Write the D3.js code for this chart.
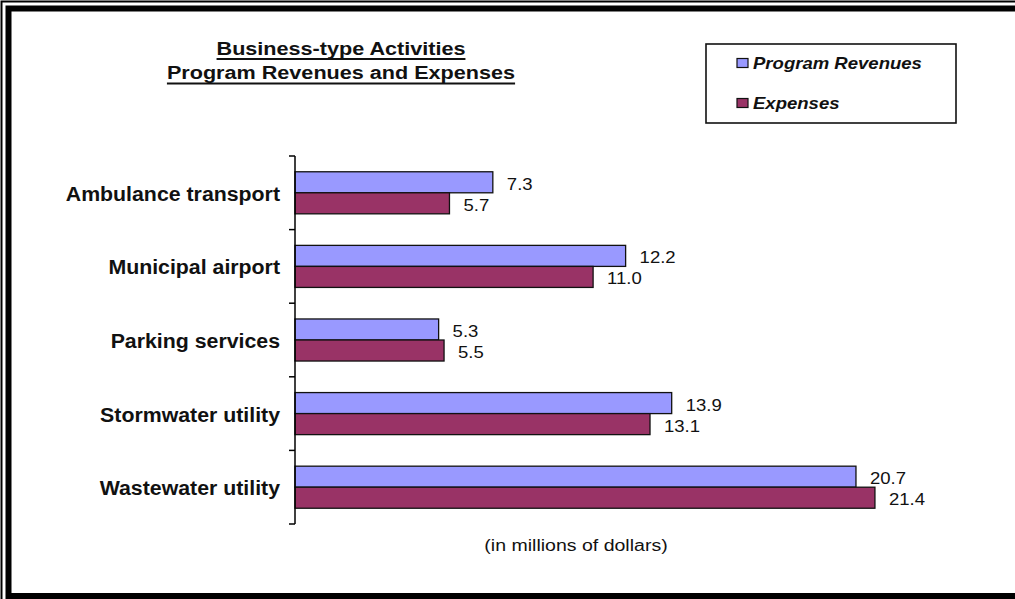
<!DOCTYPE html>
<html>
<head>
<meta charset="utf-8">
<script src="https://cdn.jsdelivr.net/npm/d3@7"></script>
<style>
  body { margin: 0; background: #fff; }
  svg { display: block; font-family: "Liberation Sans", Arial, sans-serif; }
</style>
</head>
<body>
<div id="chart"></div>
<script>
// chart data
const categories = ["Ambulance transport", "Municipal airport", "Parking services", "Stormwater utility", "Wastewater utility"];
const seriesNames = ["Program Revenues", "Expenses"];
const revenues = [7.3, 12.2, 5.3, 13.9, 20.7];
const expenses = [5.7, 11.0, 5.5, 13.1, 21.4];
const titleLines = ["Business-type Activities", "Program Revenues and Expenses"];
const axisTitle = "(in millions of dollars)";

const width = 1015, height = 599;
const colors = ["#9999ff", "#993366"];

const svg = d3.select("#chart").append("svg")
    .attr("width", width)
    .attr("height", height);

// the picture is a bit wider than Arial, so widen text to fit
function stretch(sel, k) {
    sel.each(function() {
        const w = this.getComputedTextLength();
        this.setAttribute("textLength", w * k);
        this.setAttribute("lengthAdjust", "spacingAndGlyphs");
    });
}

// double frame
svg.append("rect")
    .attr("x", 1.5).attr("y", 1.5)
    .attr("width", 1040).attr("height", 620)
    .attr("fill", "none").attr("stroke", "#000").attr("stroke-width", 2);
svg.append("rect")
    .attr("x", 8.5).attr("y", 8.5)
    .attr("width", 1040).attr("height", 587.5)
    .attr("fill", "none").attr("stroke", "#000").attr("stroke-width", 6);

// scales
const x = d3.scaleLinear().domain([0, 25]).range([295, 972.5]);
const y0 = d3.scaleBand().domain(categories).range([156, 524]).padding(0);
const y1 = d3.scaleBand().domain(seriesNames).range([0, y0.bandwidth()])
    .paddingInner(0).paddingOuter(0.75);

const rows = categories.map((c, i) => ({
    category: c,
    values: [
        {series: seriesNames[0], value: revenues[i]},
        {series: seriesNames[1], value: expenses[i]}
    ]
}));

// bars
const group = svg.append("g").selectAll("g")
    .data(rows)
    .join("g")
    .attr("transform", d => `translate(0,${y0(d.category)})`);

group.selectAll("rect")
    .data(d => d.values)
    .join("rect")
    .attr("x", x(0))
    .attr("y", d => y1(d.series))
    .attr("width", d => x(d.value) - x(0))
    .attr("height", y1.bandwidth())
    .attr("fill", (d, i) => colors[i])
    .attr("stroke", "#111")
    .attr("stroke-width", 1.3);

const valueLabels = group.selectAll("text")
    .data(d => d.values)
    .join("text")
    .attr("x", d => x(d.value) + 14)
    .attr("y", d => y1(d.series) + y1.bandwidth() - 3)
    .attr("font-size", 17)
    .attr("fill", "#111")
    .text(d => d.value.toFixed(1));
stretch(valueLabels, 1.09);

// category axis
const axis = svg.append("g");
axis.append("line")
    .attr("x1", x(0)).attr("x2", x(0))
    .attr("y1", y0.range()[0]).attr("y2", y0.range()[1])
    .attr("stroke", "#000").attr("stroke-width", 1.5);
const tickPos = categories.map(c => y0(c)).concat([y0.range()[1]]);
axis.selectAll(".tick")
    .data(tickPos)
    .join("line")
    .attr("class", "tick")
    .attr("x1", x(0) - 6).attr("x2", x(0))
    .attr("y1", d => d).attr("y2", d => d)
    .attr("stroke", "#000").attr("stroke-width", 1.5);

const catLabels = axis.selectAll(".cat")
    .data(categories)
    .join("text")
    .attr("class", "cat")
    .attr("x", 280)
    .attr("y", d => y0(d) + y0.bandwidth() / 2 + 8)
    .attr("text-anchor", "end")
    .attr("font-size", 20)
    .attr("font-weight", "bold")
    .attr("fill", "#111")
    .text(d => d);
stretch(catLabels, 1.065);

// axis title
const at = svg.append("text")
    .attr("x", 576)
    .attr("y", 551)
    .attr("text-anchor", "middle")
    .attr("font-size", 16)
    .attr("fill", "#111")
    .text(axisTitle);
stretch(at, 1.22);

// chart title with underline
const titleK = 1.2;
titleLines.forEach((t, i) => {
    const ty = 54.5 + i * 24.5;
    const txt = svg.append("text")
        .attr("x", 341)
        .attr("y", ty)
        .attr("text-anchor", "middle")
        .attr("font-size", 18)
        .attr("font-weight", "bold")
        .attr("fill", "#111")
        .text(t);
    const w = txt.node().getComputedTextLength() * titleK;
    stretch(txt, titleK);
    svg.append("line")
        .attr("x1", 341 - w / 2).attr("x2", 341 + w / 2)
        .attr("y1", ty + 4.5).attr("y2", ty + 4.5)
        .attr("stroke", "#111").attr("stroke-width", 1.8);
});

// legend
const legend = svg.append("g");
legend.append("rect")
    .attr("x", 706).attr("y", 44)
    .attr("width", 250).attr("height", 79)
    .attr("fill", "#fff")
    .attr("stroke", "#111").attr("stroke-width", 1.6);

const item = legend.selectAll(".item")
    .data(seriesNames)
    .join("g")
    .attr("class", "item")
    .attr("transform", (d, i) => `translate(737,${58.5 + i * 40})`);
item.append("rect")
    .attr("width", 11).attr("height", 9)
    .attr("fill", (d, i) => colors[i])
    .attr("stroke", "#111").attr("stroke-width", 1.2);
const legText = item.append("text")
    .attr("x", 16)
    .attr("y", 10.5)
    .attr("font-size", 17)
    .attr("font-weight", "bold")
    .attr("font-style", "italic")
    .attr("fill", "#111")
    .text(d => d);
stretch(legText, 1.09);
</script>
</body>
</html>
